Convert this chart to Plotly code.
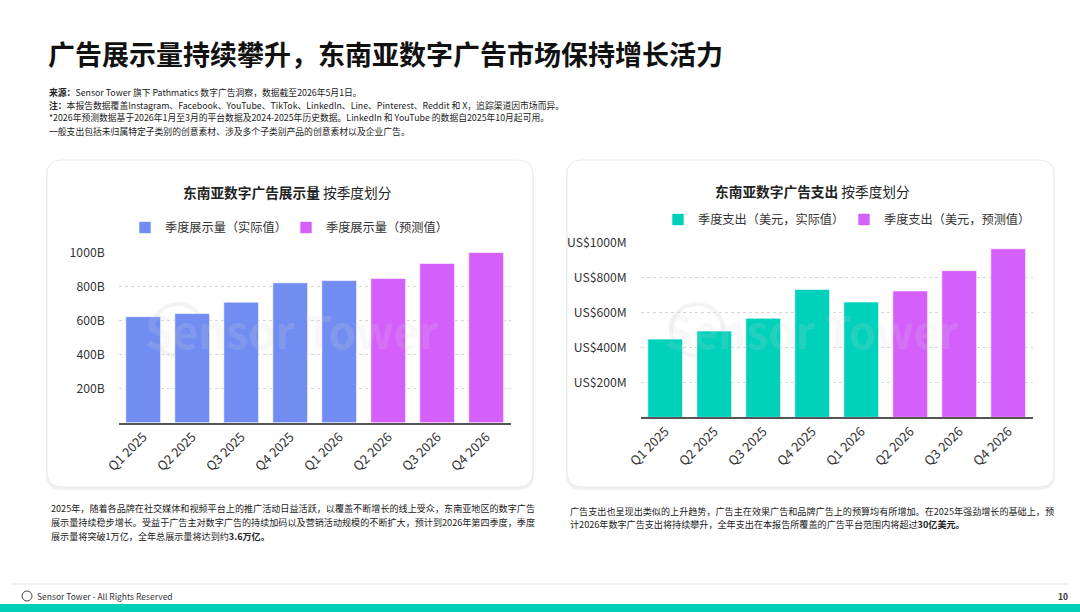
import plotly.graph_objects as go

W, H = 1080, 612
FONT = "Noto Sans CJK SC, Noto Sans, sans-serif"

quarters = ["Q1 2025", "Q2 2025", "Q3 2025", "Q4 2025", "Q1 2026", "Q2 2026", "Q3 2026", "Q4 2026"]
impr_actual_q = quarters[:5]
impr_actual = [623, 641, 708, 822, 835]
impr_fcst_q = quarters[5:]
impr_fcst = [847, 935, 1000]
spend_actual_q = quarters[:5]
spend_actual = [447, 493, 566, 731, 659]
spend_fcst_q = quarters[5:]
spend_fcst = [722, 838, 963]
impr_ticks = [200, 400, 600, 800, 1000]
impr_ticktext = ["200B", "400B", "600B", "800B", "1000B"]
spend_ticks = [200, 400, 600, 800, 1000]
spend_ticktext = ["US$200M", "US$400M", "US$600M", "US$800M", "US$1000M"]

BLUE = "#728DF1"
PURPLE = "#D45FFB"
TEAL = "#00D1BA"


def px(x):
    return x / W


def py(y):
    return 1 - y / H


fig = go.Figure()
bar_line = dict(color="rgba(255,255,255,0.6)", width=1)
fig.add_bar(x=impr_actual_q, y=impr_actual, name="季度展示量（实际值）", marker=dict(color=BLUE, line=bar_line),
            xaxis="x", yaxis="y", legend="legend", hoverinfo="skip")
fig.add_bar(x=impr_fcst_q, y=impr_fcst, name="季度展示量（预测值）", marker=dict(color=PURPLE, line=bar_line),
            xaxis="x", yaxis="y", legend="legend", hoverinfo="skip")
fig.add_bar(x=spend_actual_q, y=spend_actual, name="季度支出（美元，实际值）", marker=dict(color=TEAL, line=bar_line),
            xaxis="x2", yaxis="y2", legend="legend2", hoverinfo="skip")
fig.add_bar(x=spend_fcst_q, y=spend_fcst, name="季度支出（美元，预测值）", marker=dict(color=PURPLE, line=bar_line),
            xaxis="x2", yaxis="y2", legend="legend2", hoverinfo="skip")

xcommon = dict(type="category", categoryorder="array", categoryarray=quarters, tickangle=-45,
               tickfont=dict(family=FONT, size=12.8, color="#333"), showline=True, linecolor="#555", linewidth=1.5,
               showgrid=False, ticks="", fixedrange=True, automargin=False)
ycommon = dict(range=[0, 1000], showgrid=True, gridcolor="#d6d6d6", griddash="dot", gridwidth=1,
               zeroline=False, showline=False, tickfont=dict(family=FONT, size=12.2, color="#333"),
               ticks="", ticklabelstandoff=13, fixedrange=True, automargin=False)

LEG = 12.2
fig.update_layout(
    width=W, height=H, margin=dict(l=0, r=0, t=0, b=0, autoexpand=False),
    paper_bgcolor="white", plot_bgcolor="rgba(0,0,0,0)",
    font=dict(family=FONT, color="#333"),
    bargap=0.29, barmode="group", showlegend=True,
    xaxis=dict(domain=[px(118.7), px(510.7)], anchor="y", **xcommon),
    yaxis=dict(domain=[py(422.7), py(252.5)], anchor="x", tickvals=impr_ticks, ticktext=impr_ticktext, **ycommon),
    xaxis2=dict(domain=[px(640.7), px(1032.7)], anchor="y2", **xcommon),
    yaxis2=dict(domain=[py(417.3), py(242.3)], anchor="x2", tickvals=spend_ticks, ticktext=spend_ticktext, **ycommon),
    legend=dict(orientation="h", x=px(125), y=py(227.5), xanchor="left", yanchor="middle",
                font=dict(family=FONT, size=LEG, color="#333"), bgcolor="rgba(0,0,0,0)", entrywidth=116,
                itemclick=False, itemdoubleclick=False),
    legend2=dict(orientation="h", x=px(658), y=py(219.5), xanchor="left", yanchor="middle",
                 font=dict(family=FONT, size=LEG, color="#333"), bgcolor="rgba(0,0,0,0)", entrywidth=141,
                 itemclick=False, itemdoubleclick=False),
)


def pix_path(x0, y0, x1, y1, r):
    def P(x, y):
        return f"{px(x):.5f},{py(y):.5f}"
    return (f"M {P(x0 + r, y0)} L {P(x1 - r, y0)} Q {P(x1, y0)} {P(x1, y0 + r)} L {P(x1, y1 - r)} "
            f"Q {P(x1, y1)} {P(x1 - r, y1)} L {P(x0 + r, y1)} Q {P(x0, y1)} {P(x0, y1 - r)} "
            f"L {P(x0, y0 + r)} Q {P(x0, y0)} {P(x0 + r, y0)} Z")


shapes = []
for (x0, y0, x1, y1) in [(47, 160, 533, 487), (567, 160, 1054, 487)]:
    shapes.append(dict(type="path", xref="paper", yref="paper", path=pix_path(x0 - 1, y0, x1 + 1, y1 + 3, 16),
                       fillcolor="#f0f0f0", line=dict(width=0), layer="below"))
    shapes.append(dict(type="path", xref="paper", yref="paper", path=pix_path(x0, y0, x1, y1, 15),
                       fillcolor="white", line=dict(color="#ebebeb", width=1), layer="below"))

# watermark logos
for cx, cy in [(178, 330), (697, 330)]:
    shapes.append(dict(type="circle", xref="paper", yref="paper", x0=px(cx - 26), x1=px(cx + 26), y0=py(cy + 26), y1=py(cy - 26),
                       line=dict(color="#f3f3f3", width=4), layer="below"))

# footer
shapes.append(dict(type="line", xref="paper", yref="paper", x0=px(12), x1=px(1068), y0=py(584), y1=py(584),
                   line=dict(color="#e3e3e3", width=1)))
shapes.append(dict(type="rect", xref="paper", yref="paper", x0=0, x1=1, y0=0, y1=py(604),
                   fillcolor="#00D1B6", line=dict(width=0)))
shapes.append(dict(type="circle", xref="paper", yref="paper", x0=px(22), x1=px(32), y0=py(601), y1=py(591),
                   line=dict(color="#444", width=1)))
fig.update_layout(shapes=shapes)

ann = []


def txt(x, y, s, size, color="#333", anchor="left", yanchor="middle"):
    ann.append(dict(x=px(x), y=py(y), xref="paper", yref="paper", text=s, showarrow=False,
                    xanchor=anchor, yanchor=yanchor, font=dict(family=FONT, size=size, color=color), align="left"))


NOTE = 8.8
txt(46, 53, "<b>广告展示量持续攀升，东南亚数字广告市场保持增长活力</b>", 27, "#111")
txt(47, 92, "<b>来源：</b>Sensor Tower 旗下 Pathmatics 数字广告洞察，数据截至2026年5月1日。", NOTE, "#222")
txt(47, 105, "<b>注：</b>本报告数据覆盖Instagram、Facebook、YouTube、TikTok、LinkedIn、Line、Pinterest、Reddit 和 X，追踪渠道因市场而异。", NOTE, "#222")
txt(47, 118, "*2026年预测数据基于2026年1月至3月的平台数据及2024-2025年历史数据。LinkedIn 和 YouTube 的数据自2025年10月起可用。", NOTE, "#222")
txt(47, 131, "一般支出包括未归属特定子类别的创意素材、涉及多个子类别产品的创意素材以及企业广告。", NOTE, "#222")

txt(287, 192, "<b>东南亚数字广告展示量</b> 按季度划分", 13.7, "#222", anchor="center")
txt(812, 191, "<b>东南亚数字广告支出</b> 按季度划分", 13.7, "#222", anchor="center")

# watermark text
txt(292, 330, "<b>Sensor Tower</b>", 44, "rgba(215,215,215,0.18)", anchor="center")
txt(812, 330, "<b>Sensor Tower</b>", 44, "rgba(215,215,215,0.18)", anchor="center")

PARA = 9.1
txt(49, 508, "2025年，随着各品牌在社交媒体和视频平台上的推广活动日益活跃，以覆盖不断增长的线上受众，东南亚地区的数字广告", PARA, "#222")
txt(49, 522, "展示量持续稳步增长。受益于广告主对数字广告的持续加码以及营销活动规模的不断扩大，预计到2026年第四季度，季度", PARA, "#222")
txt(49, 536, "展示量将突破1万亿，全年总展示量将达到约<b>3.6万亿。</b>", PARA, "#222")
txt(568, 511, "广告支出也呈现出类似的上升趋势，广告主在效果广告和品牌广告上的预算均有所增加。在2025年强劲增长的基础上，预", PARA, "#222")
txt(568, 524, "计2026年数字广告支出将持续攀升，全年支出在本报告所覆盖的广告平台范围内将超过<b>30亿美元。</b>", PARA, "#222")

txt(35, 596, "Sensor Tower - All Rights Reserved", 8.5, "#333")
txt(1070, 596, "<b>10</b>", 8.5, "#333", anchor="right")
fig.update_layout(annotations=ann)

fig.write_html("out.html", config={"displayModeBar": False})
